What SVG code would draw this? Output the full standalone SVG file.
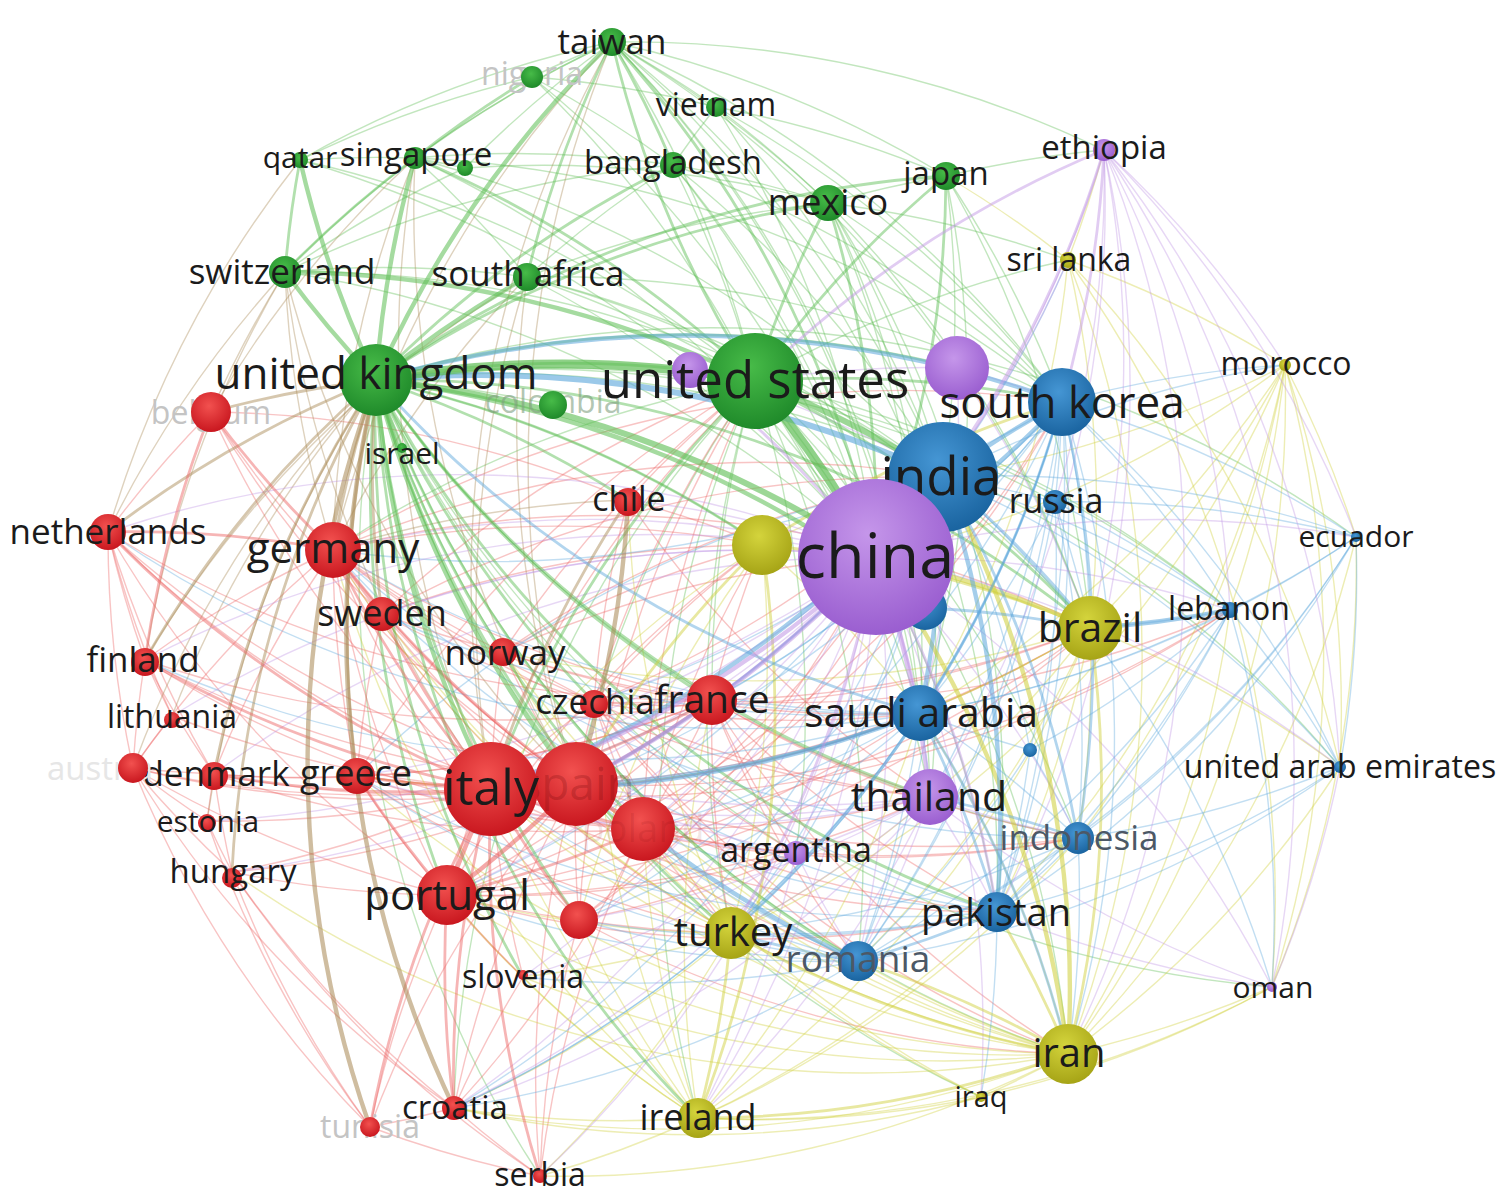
<svg xmlns="http://www.w3.org/2000/svg" width="1500" height="1204" viewBox="0 0 1500 1204">
<style>
#edges g{fill:none;stroke-linecap:round}
.g{stroke:#5fbe55}.r{stroke:#ec6464}.b{stroke:#5ea8dc}.y{stroke:#cfcf3a}.p{stroke:#c095e4}.o{stroke:#a98a55}
.t1{stroke-width:1.4;stroke-opacity:.38}
.t2{stroke-width:2.8;stroke-opacity:.48}
.t3{stroke-width:4.4;stroke-opacity:.56}
.t4{stroke-width:6;stroke-opacity:.62}
.t5{stroke-width:9;stroke-opacity:.7}
text{font-family:"Open Sans","Noto Sans","DejaVu Sans",sans-serif;text-anchor:middle;fill:#1b1b1b}
.cr{fill:url(#gR)}.cg{fill:url(#gG)}.cb{fill:url(#gB)}.cy{fill:url(#gY)}.cp{fill:url(#gP)}
.f{fill:#c4c4c4}.fa{fill:#e6e6e6}.fs{fill:#6a0508;fill-opacity:.24}.fp{fill:#6a0508;fill-opacity:.1}.fc{fill:#7f9f7f;fill-opacity:.6}.gr{fill:#4c5866}
</style>
<defs>
<radialGradient id="gR" cx="45%" cy="35%" r="65%"><stop offset="0" stop-color="#f2514f"/><stop offset="1" stop-color="#c9171f"/></radialGradient>
<radialGradient id="gG" cx="45%" cy="35%" r="65%"><stop offset="0" stop-color="#47bb48"/><stop offset="1" stop-color="#1f8a2a"/></radialGradient>
<radialGradient id="gB" cx="45%" cy="35%" r="65%"><stop offset="0" stop-color="#4596d4"/><stop offset="1" stop-color="#1a64a0"/></radialGradient>
<radialGradient id="gY" cx="45%" cy="35%" r="65%"><stop offset="0" stop-color="#d4d43c"/><stop offset="1" stop-color="#a6a416"/></radialGradient>
<radialGradient id="gP" cx="45%" cy="35%" r="65%"><stop offset="0" stop-color="#c596ea"/><stop offset="1" stop-color="#9a5ed0"/></radialGradient>
</defs>
<rect width="1500" height="1204" fill="#fff"/>
<g id="edges">
<g class="g t1">
<path d="M376 380A1100 1100 0 0 1 553 405"/><path d="M376 380A1100 1100 0 0 1 762 545"/>
<path d="M532 77A1100 1100 0 0 1 612 42"/><path d="M415 158A1100 1100 0 0 1 612 42"/><path d="M612 42A1100 1100 0 0 1 716 107"/>
<path d="M612 42A1100 1100 0 0 1 828 203"/><path d="M612 42A1100 1100 0 0 1 946 176"/><path d="M300 160A1100 1100 0 0 1 612 42"/>
<path d="M285 272A1100 1100 0 0 1 612 42"/><path d="M612 42A1100 1100 0 0 1 755 381"/><path d="M415 158A1100 1100 0 0 1 673 165"/>
<path d="M415 158A1100 1100 0 0 1 527 277"/><path d="M300 160A1100 1100 0 0 1 415 158"/><path d="M285 272A1100 1100 0 0 1 527 277"/>
<path d="M673 165A1100 1100 0 0 1 828 203"/><path d="M828 203A1100 1100 0 0 1 946 176"/><path d="M716 107A1100 1100 0 0 1 828 203"/>
<path d="M527 277A1100 1100 0 0 1 828 203"/><path d="M716 107A1100 1100 0 0 1 946 176"/><path d="M673 165A1100 1100 0 0 1 716 107"/>
<path d="M527 277A1100 1100 0 0 1 673 165"/><path d="M532 77A1100 1100 0 0 1 673 165"/><path d="M532 77A1100 1100 0 0 1 716 107"/>
<path d="M415 158A1100 1100 0 0 1 465 168"/><path d="M465 168A1100 1100 0 0 1 612 42"/><path d="M285 272A1100 1100 0 0 1 465 168"/>
<path d="M946 176A1100 1100 0 0 1 1104 150"/><path d="M527 277A1100 1100 0 0 1 755 381"/>
<path d="M673 165A1100 1100 0 0 1 755 381"/><path d="M527 277A1100 1100 0 0 1 876 557"/><path d="M415 158A1100 1100 0 0 1 876 557"/>
<path d="M673 165A1100 1100 0 0 1 876 557"/><path d="M828 203A1100 1100 0 0 1 943 477"/><path d="M946 176A1100 1100 0 0 1 943 477"/>
<path d="M612 42A1100 1100 0 0 1 943 477"/><path d="M828 203A1100 1100 0 0 1 1062 402"/><path d="M946 176A1100 1100 0 0 1 1062 402"/>
<path d="M612 42A1100 1100 0 0 1 1062 402"/><path d="M828 203A1100 1100 0 0 1 1090 628"/><path d="M755 381A1100 1100 0 0 1 920 713"/>
<path d="M755 381A1100 1100 0 0 1 1068 1054"/><path d="M755 381A1100 1100 0 0 1 997 912"/><path d="M755 381A1100 1100 0 0 1 930 797"/>
<path d="M712 700A1100 1100 0 0 1 755 381"/><path d="M333 550A1100 1100 0 0 1 755 381"/><path d="M731 933A1100 1100 0 0 1 755 381"/>
<path d="M576 784A1100 1100 0 0 1 755 381"/><path d="M755 381A1100 1100 0 0 1 1068 260"/>
<path d="M540 1176A1100 1100 0 0 1 376 380"/><path d="M1068 1054A1100 1100 0 0 1 376 380"/>
<path d="M828 203A1100 1100 0 0 1 1068 260"/><path d="M946 176A1100 1100 0 0 1 1090 628"/><path d="M612 42A1100 1100 0 0 1 1104 150"/>
<path d="M300 160A1100 1100 0 0 1 532 77"/><path d="M285 272A1100 1100 0 0 1 673 165"/><path d="M465 168A1100 1100 0 0 1 828 203"/>
<path d="M612 42A1100 1100 0 0 1 920 713"/><path d="M612 42A1100 1100 0 0 1 1090 628"/><path d="M612 42A1100 1100 0 0 1 930 797"/>
<path d="M612 42A1100 1100 0 0 1 997 912"/><path d="M415 158A1100 1100 0 0 1 943 477"/><path d="M415 158A1100 1100 0 0 1 1062 402"/>
<path d="M527 277A1100 1100 0 0 1 943 477"/><path d="M527 277A1100 1100 0 0 1 1062 402"/><path d="M673 165A1100 1100 0 0 1 943 477"/>
<path d="M673 165A1100 1100 0 0 1 1062 402"/><path d="M716 107A1100 1100 0 0 1 876 557"/><path d="M716 107A1100 1100 0 0 1 943 477"/>
<path d="M532 77A1100 1100 0 0 1 876 557"/><path d="M532 77A1100 1100 0 0 1 755 381"/><path d="M300 160A1100 1100 0 0 1 755 381"/>
<path d="M300 160A1100 1100 0 0 1 876 557"/><path d="M285 272A1100 1100 0 0 1 876 557"/><path d="M285 272A1100 1100 0 0 1 943 477"/>
<path d="M828 203A1100 1100 0 0 1 920 713"/><path d="M946 176A1100 1100 0 0 1 920 713"/><path d="M828 203A1100 1100 0 0 1 930 797"/>
<path d="M673 165A1100 1100 0 0 1 920 713"/><path d="M1078 838A1100 1100 0 0 1 376 380"/><path d="M503 652A1100 1100 0 0 1 376 380"/>
<path d="M716 107A1100 1100 0 0 1 1062 402"/><path d="M828 203A1100 1100 0 0 1 997 912"/><path d="M527 277A1100 1100 0 0 1 1090 628"/>
<path d="M981 1097A1100 1100 0 0 1 376 380"/><path d="M1272 987A1100 1100 0 0 1 376 380"/><path d="M376 380A1100 1100 0 0 1 1230 610"/>
<path d="M376 380A1100 1100 0 0 1 1340 767"/><path d="M376 380A1100 1100 0 0 1 1356 537"/><path d="M376 380A1100 1100 0 0 1 1055 502"/>
<path d="M796 853A1100 1100 0 0 1 376 380"/><path d="M755 381A1100 1100 0 0 1 1230 610"/><path d="M755 381A1100 1100 0 0 1 1078 838"/>
<path d="M755 381A1100 1100 0 0 1 858 961"/><path d="M755 381A1100 1100 0 0 1 796 853"/><path d="M698 1118A1100 1100 0 0 1 755 381"/>
<path d="M454 1108A1100 1100 0 0 1 755 381"/>
</g>
<g class="r t1">
<path d="M491 789A1100 1100 0 0 1 232 872"/><path d="M491 789A1100 1100 0 0 1 207 821"/><path d="M491 789A1100 1100 0 0 1 133 768"/>
<path d="M491 789A1100 1100 0 0 1 172 716"/><path d="M491 789A1100 1100 0 0 1 211 412"/><path d="M491 789A1100 1100 0 0 1 503 652"/>
<path d="M491 789A1100 1100 0 0 1 594 702"/><path d="M523 977A1100 1100 0 0 1 491 789"/><path d="M576 784A1100 1100 0 0 1 108 532"/>
<path d="M454 1108A1100 1100 0 0 1 576 784"/><path d="M576 784A1100 1100 0 0 1 357 776"/><path d="M576 784A1100 1100 0 0 1 145 660"/>
<path d="M576 784A1100 1100 0 0 1 382 614"/><path d="M576 784A1100 1100 0 0 1 211 412"/><path d="M576 784A1100 1100 0 0 1 594 702"/>
<path d="M576 784A1100 1100 0 0 1 503 652"/><path d="M576 784A1100 1100 0 0 1 214 774"/><path d="M576 784A1100 1100 0 0 1 133 768"/>
<path d="M576 784A1100 1100 0 0 1 232 872"/><path d="M540 1176A1100 1100 0 0 1 576 784"/><path d="M370 1127A1100 1100 0 0 1 576 784"/>
<path d="M643 829A1100 1100 0 0 1 333 550"/><path d="M643 829A1100 1100 0 0 1 594 702"/><path d="M712 700A1100 1100 0 0 1 643 829"/>
<path d="M540 1176A1100 1100 0 0 1 643 829"/><path d="M643 829A1100 1100 0 0 1 454 1108"/><path d="M643 829A1100 1100 0 0 1 357 776"/>
<path d="M643 829A1100 1100 0 0 1 108 532"/><path d="M145 660A1100 1100 0 0 1 333 550"/><path d="M382 614A1100 1100 0 0 1 333 550"/>
<path d="M214 774A1100 1100 0 0 1 333 550"/><path d="M133 768A1100 1100 0 0 1 333 550"/><path d="M357 776A1100 1100 0 0 1 333 550"/>
<path d="M145 660A1100 1100 0 0 1 108 532"/><path d="M108 532A1100 1100 0 0 1 211 412"/><path d="M133 768A1100 1100 0 0 1 108 532"/>
<path d="M172 716A1100 1100 0 0 1 108 532"/><path d="M214 774A1100 1100 0 0 1 108 532"/><path d="M172 716A1100 1100 0 0 1 145 660"/>
<path d="M133 768A1100 1100 0 0 1 145 660"/><path d="M214 774A1100 1100 0 0 1 145 660"/><path d="M133 768A1100 1100 0 0 1 172 716"/>
<path d="M214 774A1100 1100 0 0 1 133 768"/><path d="M207 821A1100 1100 0 0 1 133 768"/><path d="M232 872A1100 1100 0 0 1 133 768"/>
<path d="M207 821A1100 1100 0 0 1 214 774"/><path d="M357 776A1100 1100 0 0 1 214 774"/><path d="M232 872A1100 1100 0 0 1 214 774"/>
<path d="M232 872A1100 1100 0 0 1 207 821"/><path d="M447 895A1100 1100 0 0 1 232 872"/><path d="M370 1127A1100 1100 0 0 1 447 895"/>
<path d="M523 977A1100 1100 0 0 1 447 895"/><path d="M447 895A1100 1100 0 0 1 333 550"/><path d="M447 895A1100 1100 0 0 1 108 532"/>
<path d="M447 895A1100 1100 0 0 1 133 768"/><path d="M454 1108A1100 1100 0 0 1 370 1127"/><path d="M540 1176A1100 1100 0 0 1 454 1108"/>
<path d="M454 1108A1100 1100 0 0 1 523 977"/><path d="M370 1127A1100 1100 0 0 1 232 872"/><path d="M370 1127A1100 1100 0 0 1 133 768"/>
<path d="M370 1127A1100 1100 0 0 1 207 821"/><path d="M357 776A1100 1100 0 0 1 382 614"/><path d="M503 652A1100 1100 0 0 1 382 614"/>
<path d="M382 614A1100 1100 0 0 1 211 412"/><path d="M594 702A1100 1100 0 0 1 503 652"/><path d="M712 700A1100 1100 0 0 1 594 702"/>
<path d="M712 700A1100 1100 0 0 1 503 652"/><path d="M712 700A1100 1100 0 0 1 333 550"/><path d="M712 700A1100 1100 0 0 1 357 776"/>
<path d="M712 700A1100 1100 0 0 1 447 895"/><path d="M594 702A1100 1100 0 0 1 628 500"/><path d="M211 412A1100 1100 0 0 1 628 500"/>
<path d="M579 920A1100 1100 0 0 1 576 784"/><path d="M540 1176A1100 1100 0 0 1 579 920"/><path d="M579 920A1100 1100 0 0 1 447 895"/>
<path d="M579 920A1100 1100 0 0 1 333 550"/><path d="M712 700A1100 1100 0 0 1 108 532"/><path d="M712 700A1100 1100 0 0 1 145 660"/>
<path d="M454 1108A1100 1100 0 0 1 232 872"/><path d="M454 1108A1100 1100 0 0 1 133 768"/><path d="M540 1176A1100 1100 0 0 1 232 872"/>
<path d="M643 829A1100 1100 0 0 1 214 774"/><path d="M643 829A1100 1100 0 0 1 145 660"/>
<path d="M712 700A1100 1100 0 0 1 214 774"/><path d="M594 702A1100 1100 0 0 1 333 550"/><path d="M503 652A1100 1100 0 0 1 333 550"/>
<path d="M594 702A1100 1100 0 0 1 382 614"/><path d="M523 977A1100 1100 0 0 1 357 776"/><path d="M540 1176A1100 1100 0 0 1 370 1127"/>
<path d="M920 713A1100 1100 0 0 1 594 702"/><path d="M920 713A1100 1100 0 0 1 503 652"/><path d="M920 713A1100 1100 0 0 1 447 895"/>
<path d="M920 713A1100 1100 0 0 1 357 776"/><path d="M930 797A1100 1100 0 0 1 643 829"/><path d="M930 797A1100 1100 0 0 1 712 700"/>
<path d="M930 797A1100 1100 0 0 1 594 702"/><path d="M930 797A1100 1100 0 0 1 447 895"/><path d="M930 797A1100 1100 0 0 1 333 550"/>
<path d="M930 797A1100 1100 0 0 1 628 500"/><path d="M997 912A1100 1100 0 0 1 491 789"/><path d="M997 912A1100 1100 0 0 1 576 784"/>
<path d="M997 912A1100 1100 0 0 1 712 700"/><path d="M997 912A1100 1100 0 0 1 447 895"/><path d="M1078 838A1100 1100 0 0 1 491 789"/>
<path d="M1078 838A1100 1100 0 0 1 576 784"/><path d="M1078 838A1100 1100 0 0 1 643 829"/><path d="M1078 838A1100 1100 0 0 1 712 700"/>
<path d="M858 961A1100 1100 0 0 1 712 700"/><path d="M858 961A1100 1100 0 0 1 594 702"/><path d="M858 961A1100 1100 0 0 1 333 550"/>
<path d="M731 933A1100 1100 0 0 1 643 829"/><path d="M731 933A1100 1100 0 0 1 712 700"/><path d="M731 933A1100 1100 0 0 1 594 702"/>
<path d="M731 933A1100 1100 0 0 1 579 920"/><path d="M731 933A1100 1100 0 0 1 333 550"/><path d="M731 933A1100 1100 0 0 1 357 776"/>
<path d="M1068 1054A1100 1100 0 0 1 712 700"/><path d="M1068 1054A1100 1100 0 0 1 579 920"/><path d="M1068 1054A1100 1100 0 0 1 594 702"/>
<path d="M796 853A1100 1100 0 0 1 643 829"/><path d="M796 853A1100 1100 0 0 1 712 700"/><path d="M796 853A1100 1100 0 0 1 579 920"/>
<path d="M796 853A1100 1100 0 0 1 447 895"/><path d="M796 853A1100 1100 0 0 1 594 702"/><path d="M1090 628A1100 1100 0 0 1 491 789"/>
<path d="M1090 628A1100 1100 0 0 1 576 784"/><path d="M1090 628A1100 1100 0 0 1 643 829"/><path d="M1090 628A1100 1100 0 0 1 712 700"/>
<path d="M1090 628A1100 1100 0 0 1 594 702"/><path d="M1090 628A1100 1100 0 0 1 447 895"/><path d="M333 550A1100 1100 0 0 1 1090 628"/>
<path d="M1230 610A1100 1100 0 0 1 491 789"/><path d="M1230 610A1100 1100 0 0 1 576 784"/><path d="M1230 610A1100 1100 0 0 1 712 700"/>
<path d="M876 557A1100 1100 0 0 1 579 920"/><path d="M503 652A1100 1100 0 0 1 876 557"/><path d="M943 477A1100 1100 0 0 1 643 829"/>
<path d="M943 477A1100 1100 0 0 1 594 702"/><path d="M943 477A1100 1100 0 0 1 579 920"/><path d="M503 652A1100 1100 0 0 1 943 477"/>
<path d="M333 550A1100 1100 0 0 1 943 477"/><path d="M382 614A1100 1100 0 0 1 943 477"/><path d="M1062 402A1100 1100 0 0 1 643 829"/>
<path d="M1062 402A1100 1100 0 0 1 447 895"/><path d="M333 550A1100 1100 0 0 1 1062 402"/><path d="M643 829A1100 1100 0 0 1 762 545"/>
<path d="M712 700A1100 1100 0 0 1 762 545"/><path d="M594 702A1100 1100 0 0 1 762 545"/><path d="M503 652A1100 1100 0 0 1 762 545"/>
<path d="M628 500A1100 1100 0 0 1 762 545"/><path d="M333 550A1100 1100 0 0 1 762 545"/><path d="M382 614A1100 1100 0 0 1 762 545"/>
<path d="M447 895A1100 1100 0 0 1 762 545"/><path d="M643 829A1100 1100 0 0 1 755 381"/><path d="M594 702A1100 1100 0 0 1 755 381"/>
<path d="M503 652A1100 1100 0 0 1 755 381"/><path d="M628 500A1100 1100 0 0 1 755 381"/><path d="M447 895A1100 1100 0 0 1 755 381"/>
<path d="M579 920A1100 1100 0 0 1 755 381"/><path d="M382 614A1100 1100 0 0 1 755 381"/><path d="M357 776A1100 1100 0 0 1 755 381"/>
</g>
<g class="o t1">
<path d="M108 532A1100 1100 0 0 1 285 272"/><path d="M333 550A1100 1100 0 0 1 285 272"/><path d="M211 412A1100 1100 0 0 1 285 272"/>
<path d="M145 660A1100 1100 0 0 1 285 272"/><path d="M333 550A1100 1100 0 0 1 628 500"/><path d="M491 789A1100 1100 0 0 1 527 277"/>
<path d="M576 784A1100 1100 0 0 1 527 277"/><path d="M333 550A1100 1100 0 0 1 527 277"/><path d="M108 532A1100 1100 0 0 1 300 160"/>
<path d="M211 412A1100 1100 0 0 1 415 158"/><path d="M333 550A1100 1100 0 0 1 415 158"/><path d="M491 789A1100 1100 0 0 1 415 158"/>
<path d="M491 789A1100 1100 0 0 1 612 42"/><path d="M576 784A1100 1100 0 0 1 612 42"/><path d="M576 784A1100 1100 0 0 1 415 158"/>
<path d="M333 550A1100 1100 0 0 1 612 42"/><path d="M145 660A1100 1100 0 0 1 527 277"/><path d="M133 768A1100 1100 0 0 1 376 380"/>
<path d="M172 716A1100 1100 0 0 1 376 380"/><path d="M207 821A1100 1100 0 0 1 376 380"/>
<path d="M491 789A1100 1100 0 0 1 285 272"/><path d="M576 784A1100 1100 0 0 1 285 272"/>
</g>
<g class="y t1">
<path d="M1068 1054A1100 1100 0 0 1 981 1097"/><path d="M920 713A1100 1100 0 0 1 1068 1054"/><path d="M1272 987A1100 1100 0 0 1 1068 1054"/>
<path d="M1285 365A1100 1100 0 0 1 1068 1054"/><path d="M1068 1054A1100 1100 0 0 1 858 961"/><path d="M1068 1054A1100 1100 0 0 1 454 1108"/>
<path d="M1068 1054A1100 1100 0 0 1 643 829"/><path d="M1068 1054A1100 1100 0 0 1 491 789"/><path d="M1068 1054A1100 1100 0 0 1 576 784"/>
<path d="M1068 1054A1100 1100 0 0 1 447 895"/><path d="M731 933A1100 1100 0 0 1 447 895"/><path d="M731 933A1100 1100 0 0 1 454 1108"/>
<path d="M796 853A1100 1100 0 0 1 731 933"/><path d="M1090 628A1100 1100 0 0 1 920 713"/><path d="M1285 365A1100 1100 0 0 1 1090 628"/>
<path d="M1090 628A1100 1100 0 0 1 1078 838"/><path d="M1090 628A1100 1100 0 0 1 1340 767"/><path d="M1068 260A1100 1100 0 0 1 1090 628"/>
<path d="M762 545A1100 1100 0 0 1 943 477"/><path d="M762 545A1100 1100 0 0 1 920 713"/><path d="M762 545A1100 1100 0 0 1 731 933"/>
<path d="M491 789A1100 1100 0 0 1 762 545"/><path d="M1104 150A1100 1100 0 0 1 1068 260"/><path d="M1068 260A1100 1100 0 0 1 1285 365"/>
<path d="M1068 260A1100 1100 0 0 1 1068 1054"/><path d="M946 176A1100 1100 0 0 1 1068 260"/><path d="M1285 365A1100 1100 0 0 1 1230 610"/>
<path d="M1285 365A1100 1100 0 0 1 1356 537"/><path d="M698 1118A1100 1100 0 0 1 454 1108"/><path d="M698 1118A1100 1100 0 0 1 447 895"/>
<path d="M981 1097A1100 1100 0 0 1 698 1118"/><path d="M731 933A1100 1100 0 0 1 540 1176"/><path d="M698 1118A1100 1100 0 0 1 540 1176"/>
<path d="M1068 1054A1100 1100 0 0 1 540 1176"/><path d="M981 1097A1100 1100 0 0 1 454 1108"/><path d="M1285 365A1100 1100 0 0 1 1340 767"/>
<path d="M1285 365A1100 1100 0 0 1 1272 987"/><path d="M1068 260A1100 1100 0 0 1 1272 987"/><path d="M1285 365A1100 1100 0 0 1 920 713"/>
<path d="M1285 365A1100 1100 0 0 1 997 912"/><path d="M1285 365A1100 1100 0 0 1 731 933"/><path d="M731 933A1100 1100 0 0 1 523 977"/>
<path d="M1068 1054A1100 1100 0 0 1 523 977"/><path d="M698 1118A1100 1100 0 0 1 523 977"/><path d="M1090 628A1100 1100 0 0 1 731 933"/>
<path d="M1090 628A1100 1100 0 0 1 997 912"/><path d="M1090 628A1100 1100 0 0 1 858 961"/><path d="M1090 628A1100 1100 0 0 1 698 1118"/>
<path d="M920 713A1100 1100 0 0 1 698 1118"/><path d="M997 912A1100 1100 0 0 1 698 1118"/><path d="M1078 838A1100 1100 0 0 1 698 1118"/>
<path d="M1272 987A1100 1100 0 0 1 698 1118"/><path d="M1272 987A1100 1100 0 0 1 981 1097"/><path d="M1340 767A1100 1100 0 0 1 1068 1054"/>
<path d="M1230 610A1100 1100 0 0 1 1068 1054"/><path d="M1356 537A1100 1100 0 0 1 1068 1054"/><path d="M1285 365A1100 1100 0 0 1 1078 838"/>
<path d="M1068 1054A1100 1100 0 0 1 232 872"/><path d="M1068 1054A1100 1100 0 0 1 357 776"/><path d="M981 1097A1100 1100 0 0 1 643 829"/>
<path d="M1285 365A1100 1100 0 0 1 943 477"/><path d="M1068 260A1100 1100 0 0 1 1340 767"/><path d="M1356 537A1100 1100 0 0 1 1272 987"/>
<path d="M981 1097A1100 1100 0 0 1 731 933"/><path d="M1068 260A1100 1100 0 0 1 920 713"/>
<path d="M1285 365A1100 1100 0 0 1 876 557"/><path d="M731 933A1100 1100 0 0 1 491 789"/><path d="M698 1118A1100 1100 0 0 1 491 789"/>
<path d="M731 933A1100 1100 0 0 1 503 652"/><path d="M731 933A1100 1100 0 0 1 382 614"/><path d="M1068 1054A1100 1100 0 0 1 503 652"/>
<path d="M1068 1054A1100 1100 0 0 1 333 550"/><path d="M1090 628A1100 1100 0 0 1 503 652"/><path d="M1090 628A1100 1100 0 0 1 357 776"/>
<path d="M698 1118A1100 1100 0 0 1 579 920"/><path d="M698 1118A1100 1100 0 0 1 643 829"/><path d="M698 1118A1100 1100 0 0 1 712 700"/>
<path d="M698 1118A1100 1100 0 0 1 594 702"/><path d="M698 1118A1100 1100 0 0 1 333 550"/><path d="M579 920A1100 1100 0 0 1 762 545"/>
<path d="M731 933A1100 1100 0 0 1 628 500"/>
</g>
<g class="b t1">
<path d="M1062 402A1100 1100 0 0 1 1230 610"/><path d="M1062 402A1100 1100 0 0 1 1356 537"/><path d="M1062 402A1100 1100 0 0 1 920 713"/>
<path d="M1062 402A1100 1100 0 0 1 997 912"/><path d="M1062 402A1100 1100 0 0 1 1090 628"/><path d="M1062 402A1100 1100 0 0 1 1340 767"/>
<path d="M1062 402A1100 1100 0 0 1 858 961"/><path d="M1062 402A1100 1100 0 0 1 1068 1054"/><path d="M1062 402A1100 1100 0 0 1 930 797"/>
<path d="M1062 402A1100 1100 0 0 1 1285 365"/><path d="M1062 402A1100 1100 0 0 1 1055 502"/><path d="M920 713A1100 1100 0 0 1 1078 838"/>
<path d="M920 713A1100 1100 0 0 1 858 961"/><path d="M920 713A1100 1100 0 0 1 930 797"/><path d="M1230 610A1100 1100 0 0 1 920 713"/>
<path d="M1078 838A1100 1100 0 0 1 997 912"/><path d="M997 912A1100 1100 0 0 1 731 933"/><path d="M997 912A1100 1100 0 0 1 981 1097"/>
<path d="M1230 610A1100 1100 0 0 1 1340 767"/><path d="M1340 767A1100 1100 0 0 1 1078 838"/><path d="M1230 610A1100 1100 0 0 1 1078 838"/>
<path d="M1356 537A1100 1100 0 0 1 1230 610"/><path d="M1356 537A1100 1100 0 0 1 1340 767"/><path d="M858 961A1100 1100 0 0 1 491 789"/>
<path d="M1078 838A1100 1100 0 0 1 858 961"/><path d="M1078 838A1100 1100 0 0 1 1068 1054"/><path d="M943 477A1100 1100 0 0 1 1230 610"/>
<path d="M943 477A1100 1100 0 0 1 1356 537"/><path d="M943 477A1100 1100 0 0 1 1340 767"/><path d="M943 477A1100 1100 0 0 1 1285 365"/>
<path d="M1068 260A1100 1100 0 0 1 943 477"/><path d="M943 477A1100 1100 0 0 1 858 961"/><path d="M943 477A1100 1100 0 0 1 731 933"/>
<path d="M943 477A1100 1100 0 0 1 1055 502"/><path d="M1055 502A1100 1100 0 0 1 1090 628"/><path d="M1055 502A1100 1100 0 0 1 920 713"/>
<path d="M943 477A1100 1100 0 0 1 1272 987"/><path d="M943 477A1100 1100 0 0 1 796 853"/><path d="M1230 610A1100 1100 0 0 1 1030 750"/>
<path d="M1030 750A1100 1100 0 0 1 920 713"/><path d="M1030 750A1100 1100 0 0 1 997 912"/><path d="M1030 750A1100 1100 0 0 1 1078 838"/>
<path d="M1062 402A1100 1100 0 0 1 1030 750"/><path d="M943 477A1100 1100 0 0 1 1030 750"/><path d="M1356 537A1100 1100 0 0 1 920 713"/>
<path d="M1356 537A1100 1100 0 0 1 1078 838"/><path d="M1340 767A1100 1100 0 0 1 997 912"/><path d="M1230 610A1100 1100 0 0 1 997 912"/>
<path d="M1230 610A1100 1100 0 0 1 1272 987"/><path d="M1055 502A1100 1100 0 0 1 1078 838"/><path d="M1055 502A1100 1100 0 0 1 997 912"/>
<path d="M1356 537A1100 1100 0 0 1 997 912"/><path d="M1356 537A1100 1100 0 0 1 858 961"/><path d="M1340 767A1100 1100 0 0 1 858 961"/>
<path d="M1230 610A1100 1100 0 0 1 858 961"/><path d="M920 713A1100 1100 0 0 1 643 829"/><path d="M858 961A1100 1100 0 0 1 576 784"/>
<path d="M1078 838A1100 1100 0 0 1 731 933"/><path d="M997 912A1100 1100 0 0 1 643 829"/><path d="M1062 402A1100 1100 0 0 1 491 789"/>
<path d="M1062 402A1100 1100 0 0 1 576 784"/><path d="M1062 402A1100 1100 0 0 1 712 700"/><path d="M920 713A1100 1100 0 0 1 712 700"/>
<path d="M943 477A1100 1100 0 0 1 712 700"/><path d="M1062 402A1100 1100 0 0 1 731 933"/><path d="M1230 610A1100 1100 0 0 1 1090 628"/>
<path d="M1055 502A1100 1100 0 0 1 1230 610"/><path d="M1055 502A1100 1100 0 0 1 1356 537"/><path d="M943 477A1100 1100 0 0 1 447 895"/>
<path d="M1062 402A1100 1100 0 0 1 333 550"/><path d="M920 713A1100 1100 0 0 1 333 550"/><path d="M858 961A1100 1100 0 0 1 447 895"/>
<path d="M920 713A1100 1100 0 0 1 491 789"/><path d="M1030 750A1100 1100 0 0 1 858 961"/><path d="M1055 502A1100 1100 0 0 1 858 961"/>
<path d="M920 713A1100 1100 0 0 1 145 660"/><path d="M920 713A1100 1100 0 0 1 108 532"/><path d="M920 713A1100 1100 0 0 1 382 614"/>
<path d="M997 912A1100 1100 0 0 1 333 550"/><path d="M997 912A1100 1100 0 0 1 357 776"/><path d="M1078 838A1100 1100 0 0 1 333 550"/>
<path d="M858 961A1100 1100 0 0 1 357 776"/><path d="M858 961A1100 1100 0 0 1 454 1108"/><path d="M858 961A1100 1100 0 0 1 523 977"/>
<path d="M858 961A1100 1100 0 0 1 579 920"/><path d="M357 776A1100 1100 0 0 1 943 477"/><path d="M943 477A1100 1100 0 0 1 454 1108"/>
<path d="M1062 402A1100 1100 0 0 1 454 1108"/><path d="M1062 402A1100 1100 0 0 1 594 702"/><path d="M1062 402A1100 1100 0 0 1 579 920"/>
<path d="M997 912A1100 1100 0 0 1 594 702"/><path d="M997 912A1100 1100 0 0 1 579 920"/><path d="M920 713A1100 1100 0 0 1 579 920"/>
<path d="M920 713A1100 1100 0 0 1 454 1108"/>
</g>
<g class="p t1">
<path d="M1104 150A1100 1100 0 0 1 1272 987"/><path d="M1104 150A1100 1100 0 0 1 1068 1054"/><path d="M1104 150A1100 1100 0 0 1 1230 610"/>
<path d="M1104 150A1100 1100 0 0 1 1090 628"/><path d="M1104 150A1100 1100 0 0 1 1285 365"/><path d="M1104 150A1100 1100 0 0 1 1340 767"/>
<path d="M1104 150A1100 1100 0 0 1 1356 537"/><path d="M1104 150A1100 1100 0 0 1 943 477"/><path d="M1104 150A1100 1100 0 0 1 930 797"/>
<path d="M1104 150A1100 1100 0 0 1 997 912"/><path d="M1272 987A1100 1100 0 0 1 930 797"/><path d="M930 797A1100 1100 0 0 1 796 853"/>
<path d="M930 797A1100 1100 0 0 1 858 961"/><path d="M796 853A1100 1100 0 0 1 698 1118"/><path d="M1340 767A1100 1100 0 0 1 1272 987"/>
<path d="M1272 987A1100 1100 0 0 1 997 912"/><path d="M876 557A1100 1100 0 0 1 1272 987"/><path d="M876 557A1100 1100 0 0 1 1340 767"/>
<path d="M876 557A1100 1100 0 0 1 1230 610"/><path d="M876 557A1100 1100 0 0 1 1356 537"/>
<path d="M876 557A1100 1100 0 0 1 1078 838"/><path d="M876 557A1100 1100 0 0 1 858 961"/><path d="M876 557A1100 1100 0 0 1 796 853"/>
<path d="M876 557A1100 1100 0 0 1 698 1118"/><path d="M876 557A1100 1100 0 0 1 454 1108"/><path d="M876 557A1100 1100 0 0 1 447 895"/>
<path d="M876 557A1100 1100 0 0 1 643 829"/><path d="M876 557A1100 1100 0 0 1 712 700"/><path d="M333 550A1100 1100 0 0 1 876 557"/>
<path d="M930 797A1100 1100 0 0 1 997 912"/><path d="M1078 838A1100 1100 0 0 1 930 797"/><path d="M858 961A1100 1100 0 0 1 796 853"/>
<path d="M930 797A1100 1100 0 0 1 491 789"/><path d="M930 797A1100 1100 0 0 1 576 784"/><path d="M957 368A1100 1100 0 0 1 1062 402"/>
<path d="M755 381A1100 1100 0 0 1 957 368"/><path d="M930 797A1100 1100 0 0 1 731 933"/><path d="M796 853A1100 1100 0 0 1 491 789"/>
<path d="M796 853A1100 1100 0 0 1 576 784"/><path d="M108 532A1100 1100 0 0 1 876 557"/><path d="M876 557A1100 1100 0 0 1 357 776"/>
<path d="M382 614A1100 1100 0 0 1 876 557"/><path d="M145 660A1100 1100 0 0 1 876 557"/><path d="M214 774A1100 1100 0 0 1 876 557"/>
<path d="M876 557A1100 1100 0 0 1 594 702"/><path d="M628 500A1100 1100 0 0 1 876 557"/><path d="M690 370A1100 1100 0 0 1 943 477"/>
<path d="M690 370A1100 1100 0 0 1 755 381"/><path d="M1068 260A1100 1100 0 0 1 876 557"/><path d="M876 557A1100 1100 0 0 1 540 1176"/>
<path d="M876 557A1100 1100 0 0 1 232 872"/><path d="M876 557A1100 1100 0 0 1 981 1097"/><path d="M930 797A1100 1100 0 0 1 698 1118"/>
<path d="M1104 150A1100 1100 0 0 1 1055 502"/><path d="M957 368A1100 1100 0 0 1 1090 628"/><path d="M957 368A1100 1100 0 0 1 920 713"/>
<path d="M876 557A1100 1100 0 0 1 207 821"/><path d="M172 716A1100 1100 0 0 1 876 557"/><path d="M876 557A1100 1100 0 0 1 523 977"/>
<path d="M930 797A1100 1100 0 0 1 357 776"/><path d="M930 797A1100 1100 0 0 1 454 1108"/><path d="M796 853A1100 1100 0 0 1 454 1108"/>
<path d="M796 853A1100 1100 0 0 1 523 977"/><path d="M930 797A1100 1100 0 0 1 579 920"/>
</g>
<g class="g t2">
<path d="M376 380A1100 1100 0 0 1 673 165"/><path d="M376 380A1100 1100 0 0 1 828 203"/><path d="M376 380A1100 1100 0 0 1 946 176"/>
<path d="M415 158A1100 1100 0 0 1 532 77"/><path d="M612 42A1100 1100 0 0 1 673 165"/><path d="M527 277A1100 1100 0 0 1 612 42"/>
<path d="M376 380A1100 1100 0 0 1 628 500"/><path d="M376 380A1100 1100 0 0 1 1090 628"/><path d="M755 381A1100 1100 0 0 1 946 176"/>
<path d="M755 381A1100 1100 0 0 1 828 203"/><path d="M828 203A1100 1100 0 0 1 876 557"/><path d="M946 176A1100 1100 0 0 1 876 557"/>
<path d="M612 42A1100 1100 0 0 1 876 557"/><path d="M755 381A1100 1100 0 0 1 1090 628"/><path d="M491 789A1100 1100 0 0 1 755 381"/>
<path d="M285 272A1100 1100 0 0 1 300 160"/><path d="M376 380A1100 1100 0 0 1 690 370"/><path d="M447 895A1100 1100 0 0 1 376 380"/>
<path d="M731 933A1100 1100 0 0 1 376 380"/><path d="M698 1118A1100 1100 0 0 1 376 380"/><path d="M755 381A1100 1100 0 0 1 1062 402"/>
<path d="M285 272A1100 1100 0 0 1 415 158"/><path d="M643 829A1100 1100 0 0 1 376 380"/><path d="M712 700A1100 1100 0 0 1 376 380"/>
<path d="M930 797A1100 1100 0 0 1 376 380"/><path d="M755 381A1100 1100 0 0 1 612 42"/><path d="M997 912A1100 1100 0 0 1 376 380"/>
<path d="M579 920A1100 1100 0 0 1 376 380"/><path d="M523 977A1100 1100 0 0 1 376 380"/><path d="M594 702A1100 1100 0 0 1 376 380"/>
<path d="M376 380A1100 1100 0 0 1 957 368"/><path d="M858 961A1100 1100 0 0 1 376 380"/><path d="M415 158A1100 1100 0 0 1 755 381"/>
<path d="M376 380A1100 1100 0 0 1 762 545"/>
</g>
<g class="o t2">
<path d="M333 550A1100 1100 0 0 1 376 380"/><path d="M145 660A1100 1100 0 0 1 376 380"/><path d="M357 776A1100 1100 0 0 1 376 380"/>
<path d="M382 614A1100 1100 0 0 1 376 380"/><path d="M214 774A1100 1100 0 0 1 376 380"/><path d="M232 872A1100 1100 0 0 1 376 380"/>
<path d="M108 532A1100 1100 0 0 1 376 380"/><path d="M211 412A1100 1100 0 0 1 376 380"/><path d="M491 789A1100 1100 0 0 1 628 500"/>
</g>
<g class="r t2">
<path d="M491 789A1100 1100 0 0 1 357 776"/><path d="M491 789A1100 1100 0 0 1 333 550"/><path d="M576 784A1100 1100 0 0 1 333 550"/>
<path d="M447 895A1100 1100 0 0 1 357 776"/><path d="M491 789A1100 1100 0 0 1 108 532"/><path d="M491 789A1100 1100 0 0 1 145 660"/>
<path d="M712 700A1100 1100 0 0 1 576 784"/><path d="M643 829A1100 1100 0 0 1 447 895"/><path d="M454 1108A1100 1100 0 0 1 491 789"/>
<path d="M491 789A1100 1100 0 0 1 382 614"/><path d="M108 532A1100 1100 0 0 1 333 550"/><path d="M491 789A1100 1100 0 0 1 214 774"/>
<path d="M370 1127A1100 1100 0 0 1 491 789"/><path d="M540 1176A1100 1100 0 0 1 491 789"/><path d="M579 920A1100 1100 0 0 1 491 789"/>
<path d="M454 1108A1100 1100 0 0 1 447 895"/><path d="M333 550A1100 1100 0 0 1 211 412"/><path d="M145 660A1100 1100 0 0 1 211 412"/>
<path d="M712 700A1100 1100 0 0 1 491 789"/><path d="M643 829A1100 1100 0 0 1 491 789"/>
</g>
<g class="r t3">
<path d="M576 784A1100 1100 0 0 1 447 895"/><path d="M447 895A1100 1100 0 0 1 491 789"/><path d="M643 829A1100 1100 0 0 1 576 784"/>
</g>
<g class="o t3">
<path d="M576 784A1100 1100 0 0 0 628 500"/><path d="M370 1127A1100 1100 0 0 1 376 380"/><path d="M454 1108A1100 1100 0 0 1 376 380"/>
</g>
<g class="r t4"><path d="M576 784A1100 1100 0 0 1 491 789"/></g>
<g class="y t2">
<path d="M1068 1054A1100 1100 0 0 1 731 933"/><path d="M1068 1054A1100 1100 0 0 1 698 1118"/><path d="M731 933A1100 1100 0 0 1 698 1118"/>
<path d="M762 545A1100 1100 0 0 1 1090 628"/><path d="M762 545A1100 1100 0 0 1 1062 402"/><path d="M997 912A1100 1100 0 0 1 1068 1054"/>
<path d="M576 784A1100 1100 0 0 1 762 545"/><path d="M1090 628A1100 1100 0 0 1 1068 1054"/><path d="M762 545A1100 1100 0 0 1 698 1118"/>
<path d="M858 961A1100 1100 0 0 1 1068 1054"/>
</g>
<g class="y t3">
<path d="M876 557A1100 1100 0 0 1 1068 1054"/><path d="M876 557A1100 1100 0 0 1 1090 628"/><path d="M943 477A1100 1100 0 0 1 1068 1054"/>
</g>
<g class="b t2">
<path d="M943 477A1100 1100 0 0 1 1090 628"/><path d="M943 477A1100 1100 0 0 1 1078 838"/><path d="M943 477A1100 1100 0 0 1 576 784"/>
<path d="M920 713A1100 1100 0 0 1 997 912"/><path d="M997 912A1100 1100 0 0 1 858 961"/><path d="M1062 402A1100 1100 0 0 1 1078 838"/>
<path d="M920 713A1100 1100 0 0 1 576 784"/><path d="M925 608A1100 1100 0 0 1 1090 628"/><path d="M920 713A1100 1100 0 0 1 731 933"/>
<path d="M858 961A1100 1100 0 0 1 731 933"/><path d="M920 713A1100 1100 0 0 1 376 380"/><path d="M920 713A1100 1100 0 0 1 1068 1054"/>
<path d="M930 797A1100 1100 0 0 1 1078 838"/><path d="M1062 402A1100 1100 0 0 1 920 713"/>
</g>
<g class="b t3">
<path d="M943 477A1100 1100 0 0 1 920 713"/><path d="M943 477A1100 1100 0 0 1 997 912"/><path d="M1062 402A1100 1100 0 0 1 876 557"/>
<path d="M1230 610A1100 1100 0 0 1 1090 628"/><path d="M920 713A1100 1100 0 0 1 491 789"/><path d="M943 477A1100 1100 0 0 1 491 789"/>
<path d="M858 961A1100 1100 0 0 1 643 829"/><path d="M376 380A1100 1100 0 0 1 1062 402"/><path d="M943 477A1100 1100 0 0 1 1062 402"/>
</g>
<g class="p t2">
<path d="M876 557A1100 1100 0 0 1 997 912"/><path d="M876 557A1100 1100 0 0 1 920 713"/><path d="M1104 150A1100 1100 0 0 1 876 557"/>
<path d="M690 370A1100 1100 0 0 1 876 557"/><path d="M1104 150A1100 1100 0 0 1 1062 402"/><path d="M755 381A1100 1100 0 0 1 1104 150"/>
<path d="M876 557A1100 1100 0 0 1 731 933"/>
</g>
<g class="p t3">
<path d="M876 557A1100 1100 0 0 1 930 797"/><path d="M876 557A1100 1100 0 0 1 491 789"/><path d="M876 557A1100 1100 0 0 1 576 784"/>
</g>
<g class="g t3">
<path d="M376 380A1100 1100 0 0 1 285 272"/><path d="M376 380A1100 1100 0 0 1 415 158"/><path d="M376 380A1100 1100 0 0 1 527 277"/>
<path d="M376 380A1100 1100 0 0 1 612 42"/><path d="M376 380A1100 1100 0 0 1 300 160"/><path d="M491 789A1100 1100 0 0 1 376 380"/>
<path d="M576 784A1100 1100 0 0 1 376 380"/><path d="M376 380A1100 1100 0 0 1 925 608"/><path d="M285 272A1100 1100 0 0 1 755 381"/>
</g>
<g class="b t4"><path d="M376 380A1100 1100 0 0 1 943 477"/></g>
<g class="p t4"><path d="M943 477A1100 1100 0 0 1 876 557"/></g>
<g class="g t4"><path d="M376 380A1100 1100 0 0 1 876 557"/><path d="M755 381A1100 1100 0 0 1 943 477"/></g>
<g class="g t5"><path d="M376 380A1100 1100 0 0 1 755 381"/><path d="M755 381A1100 1100 0 0 1 876 557"/></g>
</g>
<g id="nodes">
<g id="n-ecuador"><circle class="cb" cx="1356" cy="537" r="5"/><text x="1356" y="547" font-size="30">ecuador</text></g>
<g id="n-oman"><circle class="cp" cx="1272" cy="987" r="5"/><text x="1273" y="998" font-size="30">oman</text></g>
<g id="n-iraq"><circle class="cy" cx="981" cy="1097" r="5"/><text x="981" y="1107" font-size="29">iraq</text></g>
<g id="n-israel"><circle class="cg" cx="402" cy="448" r="5"/><text x="402" y="464" font-size="30">israel</text></g>
<g id="n-slovenia"><circle class="cr" cx="523" cy="975" r="5"/><text x="523" y="988" font-size="32">slovenia</text></g>
<g id="n-morocco"><circle class="cy" cx="1285" cy="365" r="6"/><text x="1286" y="375" font-size="32">morocco</text></g>
<g id="n-uae"><circle class="cb" cx="1340" cy="767" r="6"/><text x="1340" y="778" font-size="32">united arab emirates</text></g>
<g id="n-serbia"><circle class="cr" cx="540" cy="1176" r="7"/><text x="540" y="1186" font-size="32">serbia</text></g>
<g id="n-small-blue"><circle class="cb" cx="1030" cy="750" r="7"/></g>
<g id="n-qatar"><circle class="cg" cx="300" cy="160" r="8"/><text x="300" y="168" font-size="30">qatar</text></g>
<g id="n-srilanka"><circle class="cy" cx="1068" cy="260" r="8"/><text x="1069" y="271" font-size="32">sri lanka</text></g>
<g id="n-lithuania"><circle class="cr" cx="172" cy="720" r="8"/><text x="172" y="728" font-size="32">lithuania</text></g>
<g id="n-lebanon"><circle class="cb" cx="1230" cy="610" r="8"/><text x="1229" y="620" font-size="32">lebanon</text></g>
<g id="n-small-green"><circle class="cg" cx="465" cy="168" r="8"/></g>
<g id="n-estonia"><circle class="cr" cx="207" cy="823" r="9"/><text x="208" y="832" font-size="30">estonia</text></g>
<g id="n-vietnam"><circle class="cg" cx="716" cy="107" r="10"/><text x="716" y="116" font-size="32">vietnam</text></g>
<g id="n-hungary"><circle class="cr" cx="232" cy="878" r="10"/><text x="233" y="883" font-size="33">hungary</text></g>
<g id="n-tunisia"><text class="f" x="370" y="1138" font-size="32">tunisia</text><circle class="cr" cx="370" cy="1127" r="10"/></g>
<g id="n-nigeria"><text class="f" x="532" y="85" font-size="32">nigeria</text><circle class="cg" cx="532" cy="77" r="11"/></g>
<g id="n-singapore"><circle class="cg" cx="415" cy="158" r="11"/><text x="416" y="166" font-size="33">singapore</text></g>
<g id="n-ethiopia"><circle class="cp" cx="1104" cy="150" r="11"/><text x="1104" y="159" font-size="33">ethiopia</text></g>
<g id="n-russia"><circle class="cb" cx="1055" cy="502" r="12"/><text x="1056" y="513" font-size="34">russia</text></g>
<g id="n-croatia"><circle class="cr" cx="454" cy="1108" r="12"/><text x="455" y="1119" font-size="33">croatia</text></g>
<g id="n-argentina"><circle class="cp" cx="796" cy="853" r="12"/><text x="796" y="862" font-size="34">argentina</text></g>
<g id="n-bangladesh"><circle class="cg" cx="673" cy="165" r="13"/><text x="673" y="174" font-size="33">bangladesh</text></g>
<g id="n-taiwan"><circle class="cg" cx="612" cy="42" r="14"/><text x="612" y="54" font-size="35">taiwan</text></g>
<g id="n-japan"><circle class="cg" cx="946" cy="176" r="14"/><text x="946" y="185" font-size="33">japan</text></g>
<g id="n-southafrica"><circle class="cg" cx="527" cy="277" r="14"/><text x="528" y="286" font-size="35">south africa</text></g>
<g id="n-colombia"><text class="fc" x="553" y="413" font-size="32">colombia</text><circle class="cg" cx="553" cy="405" r="14"/></g>
<g id="n-chile"><circle class="cr" cx="628" cy="502" r="14"/><text x="629" y="511" font-size="34">chile</text></g>
<g id="n-finland"><circle class="cr" cx="145" cy="662" r="14"/><text x="143" y="672" font-size="35">finland</text></g>
<g id="n-norway"><circle class="cr" cx="503" cy="652" r="14"/><text x="505" y="665" font-size="35" fill="#3a3a3a">norway</text></g>
<g id="n-czechia"><circle class="cr" cx="594" cy="704" r="14"/><text x="595" y="714" font-size="35">czechia</text></g>
<g id="n-denmark"><circle class="cr" cx="214" cy="776" r="14"/><text x="216" y="786" font-size="35">denmark</text></g>
<g id="n-switzerland"><circle class="cg" cx="285" cy="272" r="16"/><text x="282" y="284" font-size="35">switzerland</text></g>
<g id="n-austria"><text class="fa" x="100" y="780" font-size="33">austria</text><circle class="cr" cx="133" cy="768" r="15"/></g>
<g id="n-indonesia"><circle class="cb" cx="1078" cy="838" r="16"/><text class="gr" x="1079" y="850" font-size="35">indonesia</text></g>
<g id="n-sweden"><circle class="cr" cx="382" cy="614" r="17"/><text x="382" y="626" font-size="36">sweden</text></g>
<g id="n-mexico"><circle class="cg" cx="828" cy="203" r="18"/><text x="828" y="215" font-size="36">mexico</text></g>
<g id="n-netherlands"><circle class="cr" cx="108" cy="532" r="18"/><text x="108" y="544" font-size="35">netherlands</text></g>
<g id="n-greece"><circle class="cr" cx="357" cy="776" r="18"/><text x="356" y="786" font-size="36">greece</text></g>
<g id="n-purple-2"><circle class="cp" cx="690" cy="370" r="18"/></g>
<g id="n-red-2"><circle class="cr" cx="579" cy="920" r="19"/></g>
<g id="n-belgium"><text class="f" x="211" y="424" font-size="32">belgium</text><circle class="cr" cx="211" cy="412" r="20"/></g>
<g id="n-pakistan"><circle class="cb" cx="997" cy="912" r="20"/><text x="996" y="926" font-size="38">pakistan</text></g>
<g id="n-romania"><circle class="cb" cx="858" cy="961" r="20"/><text class="gr" x="858" y="972" font-size="37">romania</text></g>
<g id="n-ireland"><circle class="cy" cx="698" cy="1118" r="20"/><text x="698" y="1130" font-size="36">ireland</text></g>
<g id="n-blue-2"><circle class="cb" cx="925" cy="608" r="22"/></g>
<g id="n-france"><circle class="cr" cx="712" cy="700" r="25"/><text x="712" y="713" font-size="39">france</text></g>
<g id="n-turkey"><circle class="cy" cx="731" cy="933" r="26"/><text x="733" y="946" font-size="40">turkey</text></g>
<g id="n-germany"><circle class="cr" cx="333" cy="550" r="28"/><text x="333" y="563" font-size="42">germany</text></g>
<g id="n-saudiarabia"><circle class="cb" cx="920" cy="713" r="28"/><text x="921" y="727" font-size="41">saudi arabia</text></g>
<g id="n-thailand"><circle class="cp" cx="930" cy="797" r="28"/><text x="929" y="811" font-size="41">thailand</text></g>
<g id="n-portugal"><circle class="cr" cx="447" cy="895" r="30"/><text x="447" y="910" font-size="42">portugal</text></g>
<g id="n-iran"><circle class="cy" cx="1068" cy="1054" r="30"/><text x="1069" y="1067" font-size="40">iran</text></g>
<g id="n-yellow-2"><circle class="cy" cx="762" cy="545" r="30"/></g>
<g id="n-poland"><circle class="cr" cx="643" cy="829" r="32"/><text class="fp" x="643" y="842" font-size="38">poland</text></g>
<g id="n-brazil"><circle class="cy" cx="1090" cy="628" r="32"/><text x="1090" y="642" font-size="41">brazil</text></g>
<g id="n-purple-1"><circle class="cp" cx="957" cy="368" r="32"/></g>
<g id="n-southkorea"><circle class="cb" cx="1062" cy="402" r="34"/><text x="1062" y="418" font-size="44">south korea</text></g>
<g id="n-unitedkingdom"><circle class="cg" cx="376" cy="380" r="36"/><text x="376" y="389" font-size="44">united kingdom</text></g>
<g id="n-spain"><circle class="cr" cx="576" cy="784" r="42"/><text class="fs" x="577" y="800" font-size="46">spain</text></g>
<g id="n-italy"><circle class="cr" cx="491" cy="789" r="47"/><text x="491" y="805" font-size="50">italy</text></g>
<g id="n-unitedstates"><circle class="cg" cx="755" cy="381" r="48"/><text x="755" y="398" font-size="51">united states</text></g>
<g id="n-india"><circle class="cb" cx="943" cy="477" r="55"/><text x="941" y="495" font-size="53">india</text></g>
<g id="n-china"><circle class="cp" cx="876" cy="557" r="78"/><text x="875" y="578" font-size="63">china</text></g>
</g>
</svg>
